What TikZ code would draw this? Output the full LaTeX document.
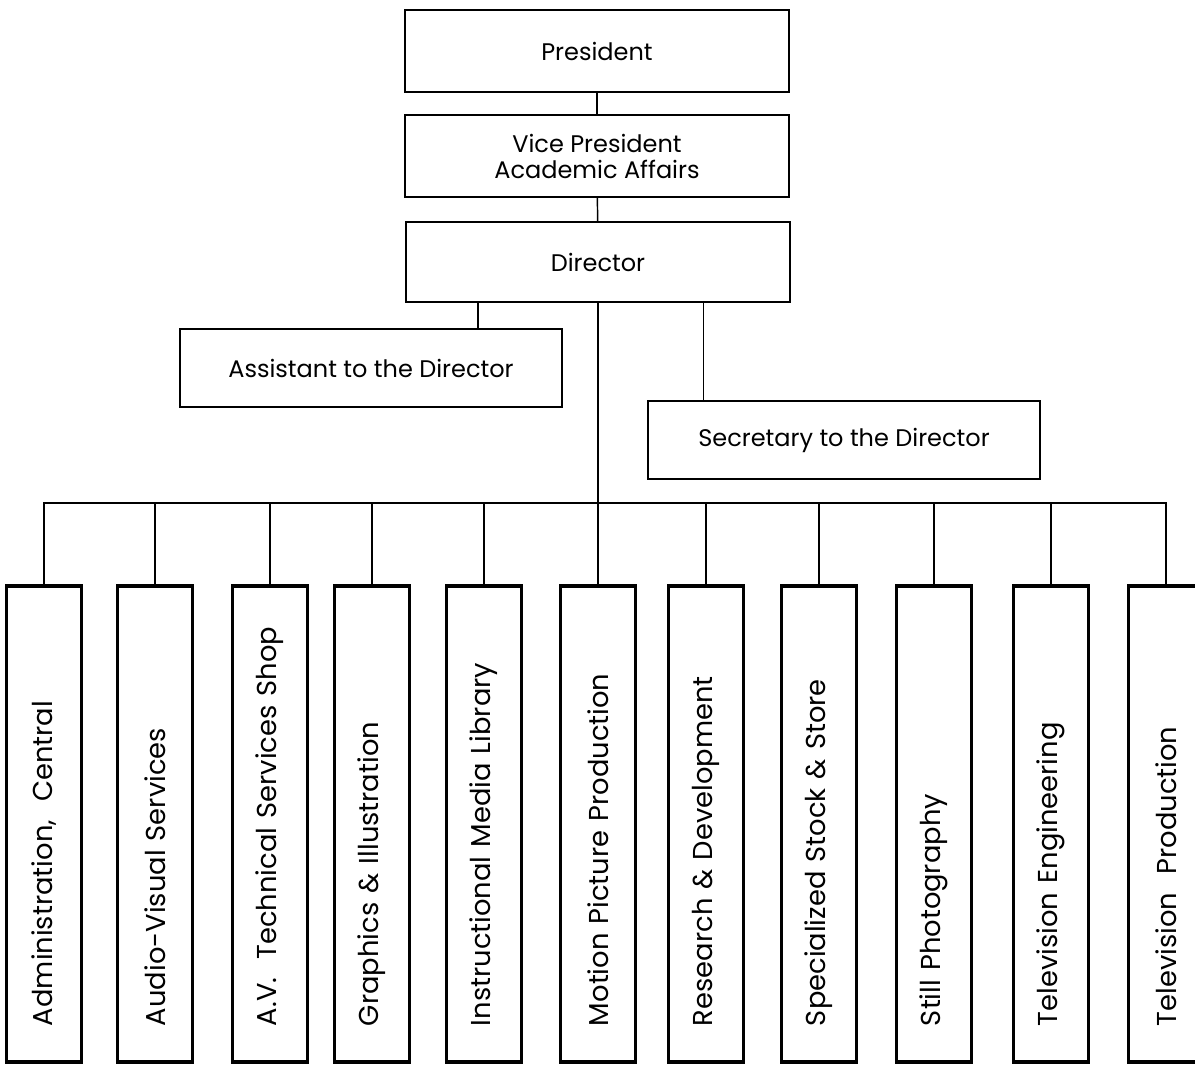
\documentclass[tikz,border=0pt]{standalone}
\usepackage{fontspec}
\setmainfont{Poppins}
\usetikzlibrary{calc}

\begin{document}
\begin{tikzpicture}[x=0.75pt, y=-0.75pt,
  box/.style={draw, line width=1.3pt, minimum width=288pt, minimum height=62pt, align=center, font=\fontsize{18}{19.5}\selectfont},
  dept/.style={draw, line width=2.5pt, rotate=90, minimum height=56pt, text width=303pt, inner xsep=27pt, minimum width=357pt, align=left, font=\fontsize{20.5}{24}\selectfont},
  link/.style={line width=1.1pt}]
  \useasboundingbox (0,0) rectangle (1195,1064);
  \node[box] (pres) at (597,51) {President};
  \node[box] (vp) at (597,156) {Vice President\\Academic Affairs};
  \node[box, minimum height=60pt] (dir) at (598,262) {Director};
  \node[box, minimum width=287pt, minimum height=58pt] (asst) at (371,368) {Assistant to the Director};
  \node[box, minimum width=294pt, minimum height=59pt] (sec) at (844,440) {Secretary to the Director};
  \draw[link] (pres) -- (vp);
  \draw[link] (vp) -- (dir);
  \draw[link] ([xshift=-90pt]dir.south) -- ([xshift=-90pt]dir.south |- asst.north);
  \draw[link] ([xshift=79pt]dir.south) -- ([xshift=79pt]dir.south |- sec.north);
  \foreach \i/\cx/\name in {1/44/{Administration,\ \ Central}, 2/155/Audio-Visual Services,
      3/270/A.V.\ \ Technical Services Shop, 4/372/Graphics \& Illustration,
      5/484/Instructional Media Library, 6/598/Motion Picture Production,
      7/706/Research \& Development, 8/819/Specialized Stock \& Store,
      9/934/Still Photography, 10/1051/Television Engineering, 11/1166/Television\ \ Production}
    \node[dept] (d\i) at (\cx,824) {\name};
  \coordinate (bus) at (0,503);
  \draw[link] (d1.east) -- (d1.east |- bus) -- (d11.east |- bus) -- (d11.east);
  \foreach \i in {2,3,4,5,7,8,9,10}
    \draw[link] (d\i.east) -- (d\i.east |- bus);
  \draw[link] (dir.south) -- (d6.east);
\end{tikzpicture}
\end{document}
